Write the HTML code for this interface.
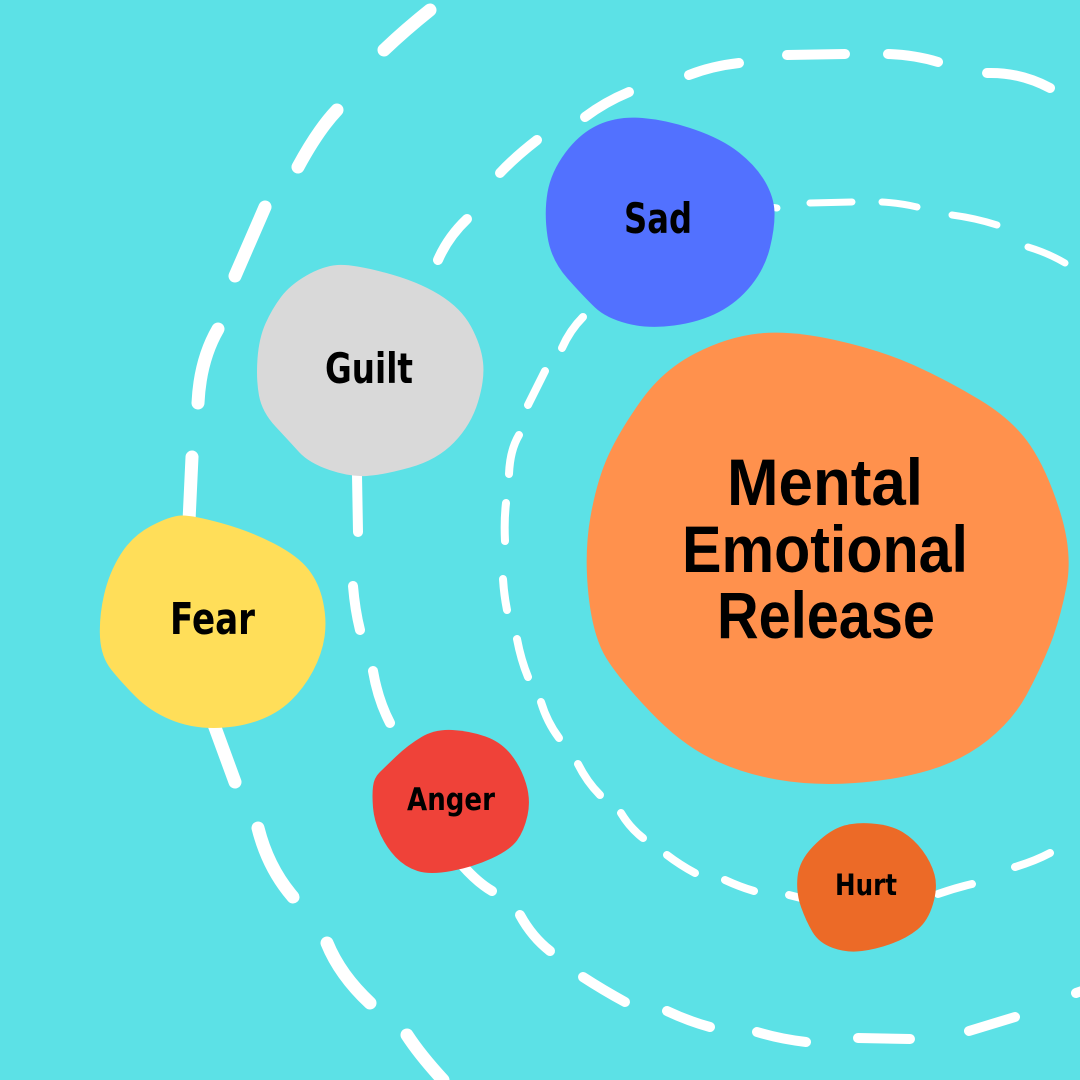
<!DOCTYPE html>
<html>
<head>
<meta charset="utf-8">
<style>
  html,body{margin:0;padding:0;background:#5CE1E6;}
  svg{display:block;}
</style>
</head>
<body>
<svg width="1080" height="1080" viewBox="0 0 1080 1080" xmlns="http://www.w3.org/2000/svg">
  <rect width="1080" height="1080" fill="#5CE1E6"/>

  <!-- Outer arc A -->
  <g fill="none" stroke="#fff" stroke-linecap="round" stroke-width="13">
    <path d="M430,10 Q405,30 384,50"/>
    <path d="M337,110 Q318,130 298,167"/>
    <path d="M265,207 L235,276"/>
    <path d="M218,329 Q200,360 198,403"/>
    <path d="M192,457 L189,521"/>
    <path d="M213,722 L235,782"/>
    <path d="M258,828 Q268,868 293,897"/>
    <path d="M327,943 Q340,975 370,1003"/>
    <path d="M407,1035 Q420,1055 443,1080"/>
  </g>

  <!-- Arc B -->
  <g fill="none" stroke="#fff" stroke-linecap="round" stroke-width="10">
    <path d="M987,73 Q1020,72 1050,88"/>
    <path d="M888,54 Q915,55 938,62"/>
    <path d="M787,55 L845,54"/>
    <path d="M689,75 Q712,66 739,63"/>
    <path d="M585,117 Q605,102 629,92"/>
    <path d="M500,173 Q515,157 537,140"/>
    <path d="M438,260 Q448,237 467,219"/>
    <path d="M357,475 L358,532"/>
    <path d="M353,586 Q355,610 360,630"/>
    <path d="M373,671 Q378,700 390,723"/>
    <path d="M462,865 Q478,883 492,891"/>
    <path d="M520,915 Q532,937 550,951"/>
    <path d="M583,977 Q603,990 625,1002"/>
    <path d="M667,1011 Q688,1021 710,1027"/>
    <path d="M757,1032 Q780,1039 806,1042"/>
    <path d="M858,1038 L910,1039"/>
    <path d="M969,1031 Q992,1024 1015,1017"/>
    <path d="M1076,993 L1088,989"/>
  </g>

  <!-- Inner arc C -->
  <g fill="none" stroke="#fff" stroke-linecap="round" stroke-width="8">
    <path d="M583,317 Q570,330 562,348"/>
    <path d="M545,371 L528,405"/>
    <path d="M519,435 Q510,450 509,474"/>
    <path d="M506,503 Q504,520 505,541"/>
    <path d="M503,579 Q504,595 507,610"/>
    <path d="M517,639 Q521,660 528,677"/>
    <path d="M541,702 Q547,722 559,738"/>
    <path d="M578,764 Q587,782 600,795"/>
    <path d="M621,813 Q630,828 643,838"/>
    <path d="M667,855 Q680,865 695,873"/>
    <path d="M725,880 Q740,887 754,891"/>
    <path d="M789,895 L805,899"/>
    <path d="M938,894 Q955,888 972,884"/>
    <path d="M1015,867 Q1035,861 1050,853"/>
  </g>

  <!-- Sad-right arc -->
  <g fill="none" stroke="#fff" stroke-linecap="round" stroke-width="7">
    <path d="M770,207 L777,208"/>
    <path d="M810,203 L852,202"/>
    <path d="M882,202 Q900,203 917,207"/>
    <path d="M952,215 Q975,218 997,225"/>
    <path d="M1028,247 Q1048,253 1065,263"/>
  </g>

  <!-- Blobs -->
  <path fill="#FF914D" d="M758.5,333.5 Q790,330 835,340 Q880,350 913.5,365 Q947,380 980,400 Q1013,420 1030,445 Q1047,470 1060,511.5 Q1073,553 1066.5,586.5 Q1060,620 1050,645 Q1040,670 1026.5,695 Q1013,720 988,740 Q963,760 930,770 Q897,780 855,783 Q813,786 776.5,779.5 Q740,773 710,758 Q680,743 650,711.5 Q620,680 606.5,658.5 Q593,637 588.5,595 Q584,553 590.5,516.5 Q597,480 608.5,455 Q620,430 641.5,400 Q663,370 695,353.5 Q727,337 758.5,333.5 Z"/>

  <path fill="#5271FF" d="M642.5,118 Q667,120 694.5,129.5 Q722,139 739,152.5 Q756,166 765,181.5 Q774,197 774.5,212 Q775,227 770,247.5 Q765,268 751.5,285 Q738,302 719,312 Q700,322 674,325.5 Q648,329 627,323.5 Q606,318 595,307.5 Q584,297 567.5,278.5 Q551,260 547.5,236.5 Q544,213 547.5,192.5 Q551,172 565.5,152.5 Q580,133 599,124.5 Q618,116 642.5,118 Z"/>

  <path fill="#D9D9D9" d="M337.5,265 Q352,264 384.5,272.5 Q417,281 439,294.5 Q461,308 471,326.5 Q481,345 483,362 Q485,379 478,402 Q471,425 454,442.5 Q437,460 410,467.5 Q383,475 366.5,476 Q350,477 329.5,470 Q309,463 299,452 Q289,441 275.5,426.5 Q262,412 259,395.5 Q256,379 257.5,358.5 Q259,338 265.5,323.5 Q272,309 281,297 Q290,285 306.5,275.5 Q323,266 337.5,265 Z"/>

  <path fill="#FFDE59" d="M181,515.5 Q192,515 221,523 Q250,531 274,543.5 Q298,556 308.5,569.5 Q319,583 323,601.5 Q327,620 324.5,637 Q322,654 313,671 Q304,688 290.5,701 Q277,714 257,721 Q237,728 213.5,728 Q190,728 170,719.5 Q150,711 136,697 Q122,683 111.5,670 Q101,657 100,637 Q99,617 104,595 Q109,573 120.5,554.5 Q132,536 151,526 Q170,516 181,515.5 Z"/>

  <path fill="#EF4239" d="M379,773 Q384,768 396,756.5 Q408,745 421.5,737 Q435,729 452.5,730 Q470,731 485.5,736.5 Q501,742 511,754.5 Q521,767 526,783.5 Q531,800 527.5,815.5 Q524,831 517,840.5 Q510,850 491.5,858.5 Q473,867 451.5,871 Q430,875 417.5,871 Q405,867 395.5,857 Q386,847 380,833.5 Q374,820 373,807.5 Q372,795 373,786.5 Q374,778 379,773 Z"/>

  <path fill="#EC6A27" d="M813,846.5 Q827,832 840,827 Q853,822 872,823.5 Q891,825 902.5,832 Q914,839 922.5,850.5 Q931,862 934.5,874.5 Q938,887 933,904 Q928,921 917.5,929.5 Q907,938 892,943.5 Q877,949 862,951 Q847,953 833,948 Q819,943 812.5,932 Q806,921 801,907 Q796,893 797.5,877 Q799,861 813,846.5 Z"/>

  <!-- Labels -->
  <g fill="#000" font-family="'DejaVu Sans', 'Liberation Sans', sans-serif" font-weight="bold">
    <text x="624" y="233" font-size="42" textLength="68" lengthAdjust="spacingAndGlyphs">Sad</text>
    <text x="325" y="383" font-size="42" textLength="88" lengthAdjust="spacingAndGlyphs">Guilt</text>
    <text x="170" y="634" font-size="44" textLength="85" lengthAdjust="spacingAndGlyphs">Fear</text>
    <text x="407" y="810" font-size="31" textLength="88" lengthAdjust="spacingAndGlyphs">Anger</text>
    <text x="835" y="895" font-size="29" textLength="62" lengthAdjust="spacingAndGlyphs">Hurt</text>
  </g>

  <g fill="#000" font-family="'Liberation Sans', sans-serif" font-weight="bold" font-size="66">
    <text x="727" y="505" textLength="196" lengthAdjust="spacingAndGlyphs">Mental</text>
    <text x="682" y="572" textLength="286" lengthAdjust="spacingAndGlyphs">Emotional</text>
    <text x="717" y="638" textLength="218" lengthAdjust="spacingAndGlyphs">Release</text>
  </g>
</svg>
</body>
</html>
